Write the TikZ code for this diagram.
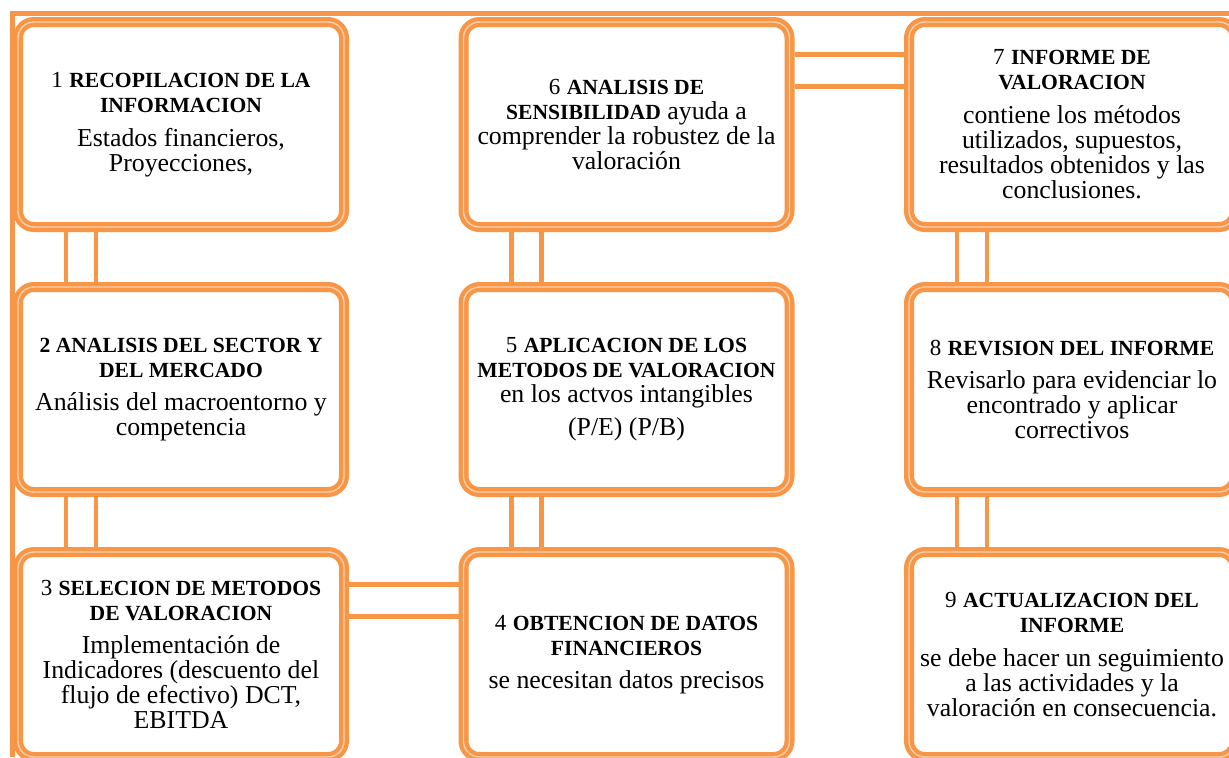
\documentclass[tikz,border=0pt]{standalone}
\usepackage{fontspec}
\setmainfont{Liberation Serif}
\usepackage{tikz}
\usetikzlibrary{positioning}
\definecolor{naranja}{HTML}{F79646}
\definecolor{naranjaclaro}{HTML}{FBD0AC}
\tikzstyle{line} = [draw=naranja, line width=2.2pt]
\newcommand{\tit}[1]{{\fontsize{10.8pt}{12.5pt}\selectfont\bfseries #1}}
\newcommand{\num}[1]{{\fontsize{11.5pt}{12.5pt}\selectfont #1}}

\begin{document}
\begin{tikzpicture}[auto,node distance=25pt and 54.75pt,
                paso/.style = {rectangle, rounded corners=8pt,
                  draw=naranja, double=naranjaclaro, double distance=0.7pt,
                  line width=2.15pt, fill=white,
                  minimum width=163pt, minimum height=102.5pt,
                  inner sep=2pt, outer sep=2.5pt, align=center,
                  font=\fontsize{12.9pt}{12.5pt}\selectfont}]
                \useasboundingbox (0,0) rectangle (614.5pt,-378.5pt);
                % marco exterior
                \coordinate (esq) at (6.25pt,-6.8pt);
                \coordinate (fin) at (614.5pt,-6.8pt);
                \coordinate (pie) at (6.25pt,-378.5pt);
                \path[line] (fin) -- (esq) -- (pie);
                \node[paso] (node1) at (90.5pt,-62.25pt) {\num{1} \tit{RECOPILACION DE LA}\\\tit{INFORMACION}\\[4.5pt]Estados financieros,\\Proyecciones,};
                \node[paso] (node2) [below = of node1] {\tit{2 ANALISIS DEL SECTOR Y}\\\tit{DEL MERCADO}\\[4pt]Análisis del macroentorno y\\competencia};
                \node[paso] (node3) [below = of node2] {\num{3} \tit{SELECION DE METODOS}\\\tit{DE VALORACION}\\[4pt]Implementación de\\Indicadores (descuento del\\flujo de efectivo) DCT,\\EBITDA};
                \node[paso] (node4) [right = of node3] {\num{4} \tit{OBTENCION DE DATOS}\\\tit{FINANCIEROS}\\[4pt]se necesitan datos precisos};
                \node[paso] (node5) [above = of node4] {\num{5} \tit{APLICACION DE LOS}\\\tit{METODOS DE VALORACION}\\en los actvos intangibles\\[4pt](P/E) (P/B)};
                \node[paso] (node6) [above = of node5] {\num{6} \tit{ANALISIS DE}\\\tit{SENSIBILIDAD} ayuda a\\comprender la robustez de la\\valoración};
                \node[paso] (node7) [right = of node6] {\num{7} \tit{INFORME DE}\\\tit{VALORACION}\\[4.5pt]contiene los métodos\\utilizados, supuestos,\\resultados obtenidos y las\\conclusiones.};
                \node[paso] (node8) [below = of node7] {\num{8} \tit{REVISION DEL INFORME}\\[4pt]Revisarlo para evidenciar lo\\encontrado y aplicar\\correctivos};
                \node[paso] (node9) [below = of node8] {\num{9} \tit{ACTUALIZACION DEL}\\\tit{INFORME}\\[4.5pt]se debe hacer un seguimiento\\a las actividades y la\\valoración en consecuencia.};
                % uniones dobles
                \foreach \a/\b in {node1/node2, node2/node3, node6/node5, node5/node4, node7/node8, node8/node9} {
                  \path[line] ([xshift=-57.5pt]\a.south) -- ([xshift=-57.5pt]\b.north);
                  \path[line] ([xshift=-42.5pt]\a.south) -- ([xshift=-42.5pt]\b.north);
                }
                \foreach \a/\b in {node3/node4, node6/node7} {
                  \path[line] ([yshift=35pt]\a.east) -- ([yshift=35pt]\b.west);
                  \path[line] ([yshift=19pt]\a.east) -- ([yshift=19pt]\b.west);
                }
            \end{tikzpicture}
\end{document}
